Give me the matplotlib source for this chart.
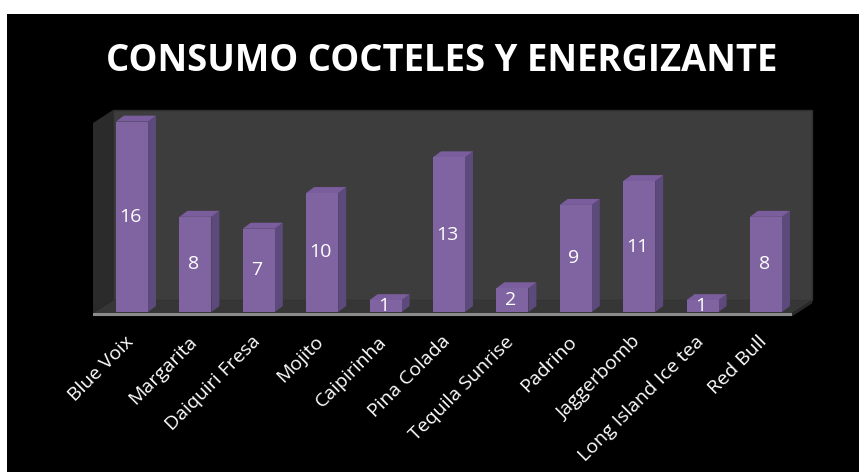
import numpy as np
import matplotlib.pyplot as plt
import matplotlib.transforms as mtransforms
from matplotlib.patches import Polygon, Rectangle

# consumo por bebida
bebidas = ['Blue Voix', 'Margarita', 'Daiquiri Fresa', 'Mojito', 'Caipirinha',
           'Pina Colada', 'Tequila Sunrise', 'Padrino', 'Jaggerbomb',
           'Long Island Ice tea', 'Red Bull']
consumo = [16, 8, 7, 10, 1, 13, 2, 9, 11, 1, 8]

titulo = 'CONSUMO COCTELES Y ENERGIZANTE'

# colores tipo Excel 3D
morado = '#8064a2'
morado_lado = '#5d4a7c'
morado_tope = '#7a5d9d'
pared = '#3d3d3d'
pared_lado = '#2b2b2b'
piso = '#363636'
borde_piso = '#8c8c8c'

plt.rcParams['font.family'] = ['Open Sans', 'DejaVu Sans']

fig = plt.figure(figsize=(8.59, 4.72), dpi=100, facecolor='white')
# fondo negro con el borde blanco arriba y a la izquierda
fig.add_artist(Rectangle((7/859, 0), 1, 1 - 14/472, transform=fig.transFigure,
                         facecolor='black', edgecolor='none', zorder=0))

ax = fig.add_axes([88/859, 1 - 320/472, 728/859, 214/472])
ax.set_facecolor('none')
ax.set_xlim(-0.694, 10.789)
ax.set_ylim(-0.672, 17.31)
for s in ax.spines.values():
    s.set_visible(False)
ax.set_yticks([])

x = np.arange(len(bebidas))
ancho = 0.505
# profundidad de las paredes y de las barras (unidades de datos)
pdx, pdy = 0.315, 1.09
bdx, bdy = 0.126, 0.5

# paredes y piso
x0, x1 = -0.615, 10.415
y_piso, y_top = -0.1, 15.88
ax.add_patch(Polygon([(x0 + pdx, y_piso + pdy), (x1 + pdx, y_piso + pdy),
                      (x1 + pdx, y_top + pdy), (x0 + pdx, y_top + pdy)],
                     closed=True, facecolor=pared, edgecolor='#2e2e2e', lw=1, zorder=1))
ax.add_patch(Polygon([(x0, y_piso), (x0 + pdx, y_piso + pdy),
                      (x0 + pdx, y_top + pdy), (x0, y_top)],
                     closed=True, facecolor=pared_lado, edgecolor='none', zorder=1))
ax.add_patch(Polygon([(x0, y_piso), (x1, y_piso), (x1 + pdx, y_piso + pdy),
                      (x0 + pdx, y_piso + pdy)],
                     closed=True, facecolor=piso, edgecolor='none', zorder=1))
ax.add_patch(Polygon([(x0, y_piso - 0.25), (x1, y_piso - 0.25), (x1 + pdx, y_piso + pdy - 0.25),
                      (x1 + pdx, y_piso + pdy), (x1, y_piso), (x0, y_piso)],
                     closed=True, facecolor=pared_lado, edgecolor='none', zorder=1))
ax.add_patch(Rectangle((x0, y_piso - 0.25), x1 - x0, 0.25,
                       facecolor=borde_piso, edgecolor='none', zorder=1))

# barras: cara frontal, lado y tope
ax.bar(x, consumo, width=ancho, color=morado, zorder=3)
for xi, v in zip(x, consumo):
    der = xi + ancho / 2
    izq = xi - ancho / 2
    ax.add_patch(Polygon([(der, 0), (der + bdx, bdy), (der + bdx, v + bdy), (der, v)],
                         closed=True, facecolor=morado_lado, edgecolor='none', zorder=2))
    ax.add_patch(Polygon([(izq, v), (der, v), (der + bdx, v + bdy), (izq + bdx, v + bdy)],
                         closed=True, facecolor=morado_tope, edgecolor='none', zorder=2))
    ax.text(xi - 0.03, v / 2, str(v), ha='center', va='center', color='white',
            fontsize=14, zorder=4)

ax.set_xticks(x)
ax.set_xticklabels(bebidas, rotation=45, ha='right', rotation_mode='anchor',
                   color='white', fontsize=14)
ax.tick_params(axis='x', length=0, pad=9)
# correr las etiquetas un poco a la izquierda
desplaza = mtransforms.ScaledTranslation(-0.08, 0, fig.dpi_scale_trans)
for lab in ax.get_xticklabels():
    lab.set_transform(lab.get_transform() + desplaza)

fig.text(442/859, 1 - 61/472, titulo, ha='center', va='center', color='white',
         fontsize=26.3, fontweight='bold')

fig.savefig('out.png', dpi=100, facecolor=fig.get_facecolor())
